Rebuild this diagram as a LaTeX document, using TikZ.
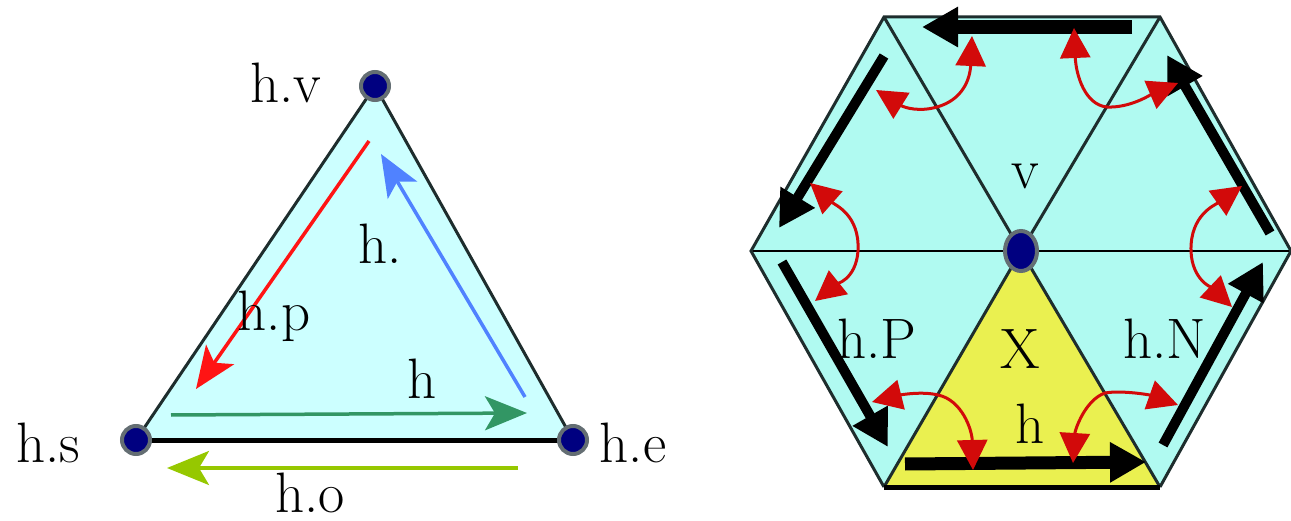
\documentclass[tikz,border=0pt]{standalone}
\usepackage{fontspec}
\usetikzlibrary{arrows.meta,shapes.geometric}
\definecolor{tricyan}{RGB}{204,255,255}
\definecolor{hexcyan}{RGB}{176,250,241}
\definecolor{hexyellow}{RGB}{234,240,80}
\definecolor{edgecol}{RGB}{30,45,45}
\definecolor{dotfill}{RGB}{0,0,128}
\definecolor{dotring}{RGB}{100,110,115}
\definecolor{redc}{RGB}{210,10,10}
\definecolor{arred}{RGB}{255,20,20}
\definecolor{arblue}{RGB}{80,130,255}
\definecolor{argreen}{RGB}{50,150,100}
\definecolor{arlime}{RGB}{150,200,0}
\begin{document}
\begin{tikzpicture}[x=1pt,y=-1pt,
  lbl/.style={anchor=base,inner sep=0pt,font=\fontsize{57}{60}\selectfont},
  edge/.style={draw=edgecol,line width=3pt},
  vdot/.style={circle,fill=dotfill,draw=dotring,line width=4pt,minimum size=28pt,inner sep=0pt},
  colarr/.style={line width=3.5pt,-{Stealth[length=42pt,width=34pt,inset=10pt]}},
  bigarr/.style={line width=10pt,-{Triangle[length=36pt,width=38pt]}},
  redarr/.style={draw=redc,line width=3pt,{Triangle[length=30pt,width=30pt]}-{Triangle[length=30pt,width=30pt]}}
]
\useasboundingbox (0,0) rectangle (1291,521);
% ---------- left triangle ----------
\coordinate (hs) at (136,440);
\coordinate (he) at (573,440);
\coordinate (hv) at (375,86);
\fill[tricyan] (hs) -- (he) -- (hv) -- cycle;
\draw[edge,line cap=round] (hs) -- (hv) -- (he);
\draw[black,line width=5pt] (hs) -- (he);
\node[vdot] (ns) at (hs) {};
\node[vdot] (ne) at (he) {};
\node[vdot] (nv) at (hv) {};
\coordinate (r1) at (369,141); \coordinate (r2) at (196,389);
\coordinate (b1) at (525,397); \coordinate (b2) at (381,154);
\coordinate (g1) at (171,415); \coordinate (g2) at (527,413);
\coordinate (l1) at (518,468); \coordinate (l2) at (167,468);
\draw[colarr,arred] (r1) -- (r2);
\draw[colarr,arblue] (b1) -- (b2);
\draw[colarr,argreen] (g1) -- (g2);
\draw[colarr,arlime] (l1) -- (l2);
\node[lbl] (tv) at (286,103) {h.v};
\node[lbl] (tn) at (380,264) {h.};
\node[lbl] (tp) at (274,331) {h.p};
\node[lbl] (th) at (422,399) {h};
\node[lbl] (ts) at (48,462) {h.s};
\node[lbl] (te) at (633,462) {h.e};
\node[lbl] (to) at (310,512) {h.o};
% ---------- hexagon ----------
\coordinate (C) at (1021,251);
\coordinate (L) at (751,251);
\coordinate (R) at (1291,251);
\coordinate (TL) at (884,17);
\coordinate (TR) at (1160,17);
\coordinate (BL) at (884,487);
\coordinate (BR) at (1160,487);
\fill[hexcyan] (L) -- (TL) -- (TR) -- (R) -- (BR) -- (BL) -- cycle;
\fill[hexyellow] (C) -- (BL) -- (BR) -- cycle;
\draw[edge] (C) -- (TL) (C) -- (TR) (C) -- (BL) (C) -- (BR);
\draw[black,line width=2.4pt] (L) -- (R);
\draw[edge,line join=miter] (BL) -- (L) -- (TL) -- (TR) -- (R) -- (BR);
\draw[black,line width=5pt] (BL) -- (BR);
% black half-edge arrows
\coordinate (a1) at (1132,27); \coordinate (a2) at (922,27);
\coordinate (a3) at (884,56);  \coordinate (a4) at (779,228);
\coordinate (a5) at (782,262); \coordinate (a6) at (888,447);
\coordinate (a7) at (905,464); \coordinate (a8) at (1146,462);
\coordinate (a9) at (1163,445); \coordinate (a10) at (1263,262);
\coordinate (a11) at (1270,233); \coordinate (a12) at (1167,55);
\draw[bigarr,line width=14pt] (a1) -- (a2);
\draw[bigarr] (a3) -- (a4);
\draw[bigarr] (a5) -- (a6);
\draw[bigarr,line width=13pt] (a7) -- (a8);
\draw[bigarr] (a9) -- (a10);
\draw[bigarr] (a11) -- (a12);
% red curved double arrows across the spokes
\draw[redarr] (876,90) .. controls (905,108) and (920,112) .. (937,107) .. controls (962,100) and (970,80) .. (972,36);
\draw[redarr] (1074,28) .. controls (1076,75) and (1085,105) .. (1107,107) .. controls (1130,108) and (1150,95) .. (1178,83);
\draw[redarr] (810,183) .. controls (835,205) and (860,215) .. (858,251) .. controls (856,280) and (835,285) .. (815,301);
\draw[redarr] (1242,186) .. controls (1215,205) and (1190,215) .. (1191,251) .. controls (1192,280) and (1212,288) .. (1232,307);
\draw[redarr] (872,402) .. controls (900,395) and (922,391) .. (938,395) .. controls (962,400) and (972,430) .. (973,470);
\draw[redarr] (1178,405) .. controls (1150,395) and (1122,390) .. (1105,393) .. controls (1085,400) and (1075,430) .. (1073,463);
\node[ellipse,fill=dotfill,draw=dotring,line width=4pt,minimum width=32pt,minimum height=40pt,inner sep=0pt] (nc) at (C) {};
\node[lbl] (tlv) at (1025,189) {v};
\node[lbl] (tlx) at (1020,369) {X};
\node[lbl] (tlp) at (877,359) {h.P};
\node[lbl] (tln) at (1165,359) {h.N};
\node[lbl] (tlh) at (1030,443) {h};
\end{tikzpicture}
\end{document}
